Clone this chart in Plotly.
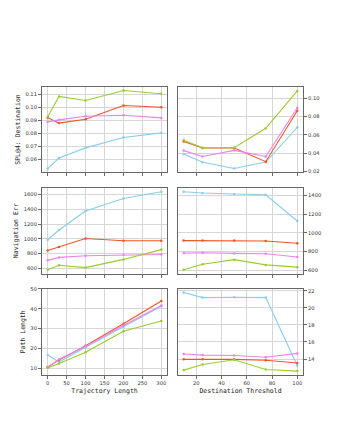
import plotly.graph_objects as go

traj_len = [0, 30, 100, 200, 300]
dest_thr = [10, 25, 50, 75, 100]

series_names = ["A", "B", "C", "D"]
colors = ["#87ceeb", "#ef5624", "#ee82ee", "#9acd32"]

# SPL@4: Destination vs trajectory length
spl_traj_blue = [0.053, 0.0612, 0.069, 0.077, 0.0805]
spl_traj_orange = [0.0922, 0.088, 0.091, 0.1015, 0.1002]
spl_traj_violet = [0.0888, 0.0905, 0.0933, 0.094, 0.092]
spl_traj_green = [0.0928, 0.1085, 0.1053, 0.113, 0.1105]

# SPL@4 vs destination threshold
spl_thr_blue = [0.0392, 0.030, 0.0232, 0.0303, 0.0684]
spl_thr_orange = [0.0527, 0.0456, 0.0456, 0.0307, 0.0865]
spl_thr_violet = [0.0428, 0.0364, 0.0431, 0.0364, 0.0897]
spl_thr_green = [0.0541, 0.046, 0.046, 0.0673, 0.1082]

# Navigation error
nav_traj_blue = [987, 1120, 1378, 1547, 1640]
nav_traj_orange = [840, 889, 1004, 973, 973]
nav_traj_violet = [707, 747, 769, 782, 787]
nav_traj_green = [578, 640, 609, 720, 853]

nav_thr_blue = [1439, 1425, 1414, 1407, 1126]
nav_thr_orange = [916, 916, 916, 912, 888]
nav_thr_violet = [782, 786, 779, 775, 740]
nav_thr_green = [603, 663, 712, 656, 632]

# Path length
pl_traj_blue = [16.8, 13.2, 20.6, 31.0, 41.2]
pl_traj_orange = [10.8, 14.2, 21.4, 32.4, 43.9]
pl_traj_violet = [10.5, 14.6, 21.1, 31.6, 41.6]
pl_traj_green = [10.3, 12.5, 18.2, 28.7, 33.8]

pl_thr_blue = [21.8, 21.2, 21.25, 21.2, 13.2]
pl_thr_orange = [13.96, 13.96, 13.96, 13.85, 13.54]
pl_thr_violet = [14.58, 14.46, 14.42, 14.2, 14.66]
pl_thr_green = [12.7, 13.35, 13.92, 12.77, 12.58]

W, H = 337, 423
fig = go.Figure()

panels = [
    (traj_len, [spl_traj_blue, spl_traj_orange, spl_traj_violet, spl_traj_green], 0, 0, [0.0505, 0.1157], 0.01, ".2f", "SPL@4: Destination"),
    (dest_thr, [spl_thr_blue, spl_thr_orange, spl_thr_violet, spl_thr_green], 0, 1, [0.0194, 0.1125], 0.02, ".2f", ""),
    (traj_len, [nav_traj_blue, nav_traj_orange, nav_traj_violet, nav_traj_green], 1, 0, [525, 1693], 200, "d", "Navigation Err"),
    (dest_thr, [nav_thr_blue, nav_thr_orange, nav_thr_violet, nav_thr_green], 1, 1, [561, 1481], 200, "d", ""),
    (traj_len, [pl_traj_blue, pl_traj_orange, pl_traj_violet, pl_traj_green], 2, 0, [6.7, 50.1], 10, "d", "Path Length"),
    (dest_thr, [pl_thr_blue, pl_thr_orange, pl_thr_violet, pl_thr_green], 2, 1, [12.12, 22.26], 2, "d", ""),
]

col_px = [(42, 167), (178, 303)]
row_px = [(85, 171), (187, 274), (289, 376.5)]

mono = "DejaVu Sans Mono"
sans = "DejaVu Sans"
tickfont = dict(family=sans, size=5.2, color="#333")
titlefont = dict(family=mono, size=6.5, color="#222")

for i, (xv, ser, r, c, yr, dt, tf, ylab) in enumerate(panels):
    n = i + 1
    xa = "xaxis" if n == 1 else f"xaxis{n}"
    ya = "yaxis" if n == 1 else f"yaxis{n}"
    xref = "x" if n == 1 else f"x{n}"
    yref = "y" if n == 1 else f"y{n}"
    for s, col, name in zip(ser, colors, series_names):
        fig.add_trace(go.Scatter(
            x=xv, y=s, mode="lines+markers", name=name, showlegend=False,
            line=dict(color=col, width=1.1), marker=dict(color=col, size=2.5),
            xaxis=xref, yaxis=yref, hoverinfo="skip",
        ))
    x0, x1 = col_px[c]
    y0, y1 = row_px[r]
    if c == 0:
        xrange = [-15, 315]
        xtickvals = [0, 50, 100, 150, 200, 250, 300]
        xtitle = "Trajectory Length" if r == 2 else ""
    else:
        xrange = [5.5, 104.5]
        xtickvals = [20, 40, 60, 80, 100]
        xtitle = "Destination Threshold" if r == 2 else ""
    fig.layout[xa] = dict(
        domain=[x0 / W, x1 / W], anchor=yref, range=xrange,
        tickvals=xtickvals, showticklabels=(r == 2),
        ticks="outside", ticklen=3, tickwidth=0.8, tickcolor="#444",
        showgrid=True, gridcolor="#d6d6d6", gridwidth=1,
        showline=True, linecolor="#666", linewidth=1, mirror=True,
        zeroline=False, tickfont=tickfont,
        title=dict(text=xtitle, font=titlefont, standoff=3),
    )
    fig.layout[ya] = dict(
        domain=[1 - y1 / H, 1 - y0 / H], anchor=xref, range=yr,
        dtick=dt, tickformat=tf, side=("left" if c == 0 else "right"),
        ticks="outside", ticklen=3, tickwidth=0.8, tickcolor="#444",
        showgrid=True, gridcolor="#d6d6d6", gridwidth=1,
        showline=True, linecolor="#666", linewidth=1, mirror=True,
        zeroline=False, tickfont=tickfont,
        title=dict(text=ylab, font=titlefont, standoff=4),
    )

fig.update_layout(
    width=W, height=H, margin=dict(l=0, r=0, t=0, b=0),
    paper_bgcolor="white", plot_bgcolor="white", showlegend=False,
    hovermode=False,
)

fig.write_html(
    "out.html",
    config={"displayModeBar": False, "staticPlot": True},
    post_script="document.body.style.margin='0';",
)
